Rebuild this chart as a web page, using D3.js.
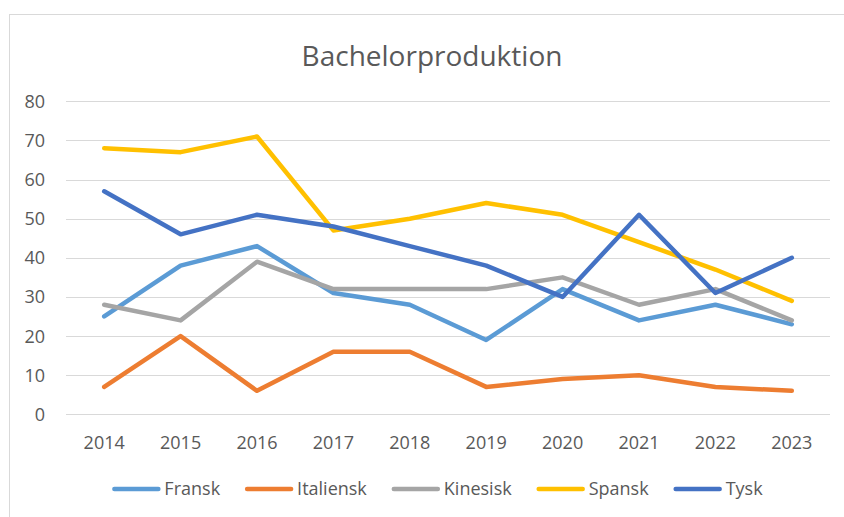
<!DOCTYPE html>
<html lang="en">
<head>
    <meta charset="UTF-8">
    <title>Bachelorproduktion</title>
    <script src="https://d3js.org/d3.v7.min.js"></script>
    <style>
        body { margin: 0; background: #fff; }
        svg { display: block; }
    </style>
</head>
<body>
    <svg id="chart"></svg>

    <script>
        const years = ["2014", "2015", "2016", "2017", "2018", "2019", "2020", "2021", "2022", "2023"];
        const seriesNames = ["Fransk", "Italiensk", "Kinesisk", "Spansk", "Tysk"];
        const fransk = [25, 38, 43, 31, 28, 19, 32, 24, 28, 23];
        const italiensk = [7, 20, 6, 16, 16, 7, 9, 10, 7, 6];
        const kinesisk = [28, 24, 39, 32, 32, 32, 35, 28, 32, 24];
        const spansk = [68, 67, 71, 47, 50, 54, 51, 44, 37, 29];
        const tysk = [57, 46, 51, 48, 43, 38, 30, 51, 31, 40];
        const yTicks = [0, 10, 20, 30, 40, 50, 60, 70, 80];
        const colors = ["#5B9BD5", "#ED7D31", "#A5A5A5", "#FFC000", "#4472C4"];

        const series = [fransk, italiensk, kinesisk, spansk, tysk];

        const W = 844, H = 517;
        const font = "'Open Sans', 'Noto Sans', sans-serif";
        const textColor = "#595959";

        const svg = d3.select("#chart")
            .attr("width", W)
            .attr("height", H)
            .style("font-family", font);

        // chart frame (only left/top edges fall inside the picture)
        svg.append("rect")
            .attr("x", 9.5).attr("y", 14.5)
            .attr("width", W + 20).attr("height", H + 20)
            .attr("fill", "#fff")
            .attr("stroke", "#d9d9d9");

        const x = d3.scaleBand()
            .domain(years)
            .range([66, 830]);

        const y = d3.scaleLinear()
            .domain([0, 80])
            .range([414.3, 101.3]);

        // title
        svg.append("text")
            .attr("x", 432)
            .attr("y", 66)
            .attr("text-anchor", "middle")
            .attr("fill", textColor)
            .style("font-size", "28px")
            .text("Bachelorproduktion");

        // gridlines
        svg.append("g")
            .selectAll("line")
            .data(yTicks)
            .join("line")
            .attr("x1", 66).attr("x2", 830)
            .attr("y1", d => Math.round(y(d)) + 0.5)
            .attr("y2", d => Math.round(y(d)) + 0.5)
            .attr("stroke", "#d9d9d9")
            .attr("stroke-width", 1);

        // y labels
        svg.append("g")
            .selectAll("text")
            .data(yTicks)
            .join("text")
            .attr("x", 45)
            .attr("y", d => y(d))
            .attr("dy", "0.36em")
            .attr("text-anchor", "end")
            .attr("fill", textColor)
            .style("font-size", "18px")
            .text(d => d);

        // x labels
        svg.append("g")
            .selectAll("text")
            .data(years)
            .join("text")
            .attr("x", d => x(d) + x.bandwidth() / 2)
            .attr("y", 449)
            .attr("text-anchor", "middle")
            .attr("fill", textColor)
            .style("font-size", "18px")
            .text(d => d);

        // lines
        const line = d3.line()
            .x((d, i) => x(years[i]) + x.bandwidth() / 2)
            .y(d => y(d));

        svg.append("g")
            .selectAll("path")
            .data(series)
            .join("path")
            .attr("d", line)
            .attr("fill", "none")
            .attr("stroke", (d, i) => colors[i])
            .attr("stroke-width", 4.5)
            .attr("stroke-linejoin", "round")
            .attr("stroke-linecap", "round");

        // legend
        const legend = svg.append("g");
        const swatchW = 48, gapText = 4, gapItem = 25, legendY = 489;
        let cx = 0;
        seriesNames.forEach((name, i) => {
            const g = legend.append("g").attr("transform", `translate(${cx},0)`);
            g.append("line")
                .attr("x1", 2).attr("x2", swatchW - 2)
                .attr("y1", legendY).attr("y2", legendY)
                .attr("stroke", colors[i])
                .attr("stroke-width", 4.5)
                .attr("stroke-linecap", "round");
            const t = g.append("text")
                .attr("x", swatchW + gapText)
                .attr("y", legendY)
                .attr("dy", "0.36em")
                .attr("fill", textColor)
                .style("font-size", "18px")
                .text(name);
            cx += swatchW + gapText + t.node().getComputedTextLength() + gapItem;
        });
        const legendW = cx - gapItem;
        legend.attr("transform", `translate(${437.5 - legendW / 2},0)`);
    </script>
</body>
</html>
